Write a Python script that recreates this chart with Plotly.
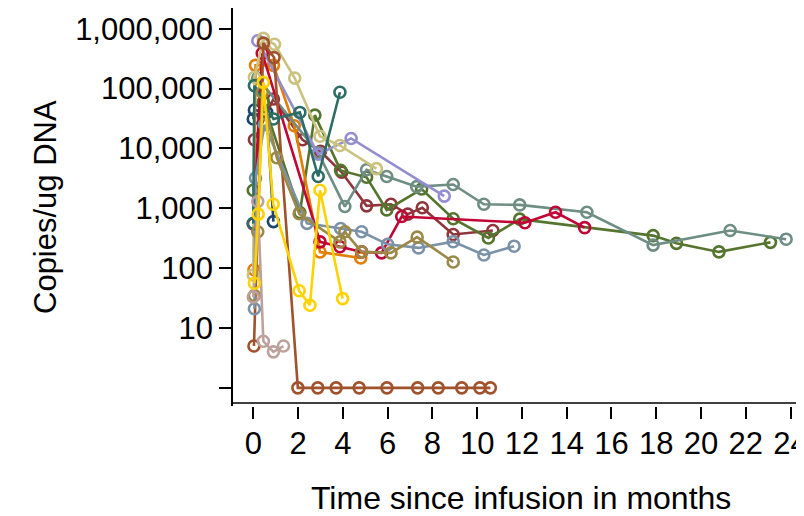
import plotly.graph_objects as go

# ---- data (months since infusion, copies/ug DNA; 0 = undetectable) ----
navy_x = [0.0, 0.05, 0.6, 0.9]
navy_y = [31000, 44000, 40000, 600]

maroon_x = [0.05, 0.9, 2.2, 3.0, 3.95, 5.06, 6.15, 6.9, 7.55, 8.93, 10.7]
maroon_y = [14000, 67000, 14000, 9000, 4000, 1100, 1170, 800, 1020, 365, 425]

green_x = [0.0, 0.45, 2.08, 2.75, 3.9, 5.06, 5.96, 7.52, 8.93, 10.5, 11.9, 17.86, 18.9, 20.8, 23.1]
green_y = [2000, 60000, 850, 36000, 4300, 3300, 940, 2100, 670, 320, 660, 350, 260, 187, 270]

orange_x = [0.03, 0.1, 0.9, 1.83, 2.98, 4.8]
orange_y = [94, 245000, 245000, 24000, 186, 148]

teal_x = [0.2, 2.9, 4.09, 5.06, 5.96, 7.3, 8.93, 10.3, 11.9, 14.9, 17.86, 21.3, 23.8]
teal_y = [150000, 8500, 1070, 4400, 3400, 2300, 2500, 1170, 1140, 860, 243, 425, 305]

cran_x = [0.0, 0.4, 2.98, 3.87, 4.84, 5.73, 6.63, 12.13, 13.5, 14.8]
cran_y = [550, 390000, 275, 228, 187, 180, 730, 575, 860, 475]

lav_x = [0.2, 2.9, 4.37, 8.53]
lav_y = [630000, 8000, 14700, 1600]

khaki_x = [0.0, 0.05, 0.45, 0.95, 1.85, 2.98, 3.87, 5.5]
khaki_y = [77, 155000, 690000, 550000, 150000, 16000, 11200, 4600]

sienna_x = [0.03, 0.45, 0.93, 1.99, 2.88, 3.7, 4.73, 5.97, 7.34, 8.26, 9.31, 10.12, 10.59]
sienna_y = [5, 575000, 330000, 0, 0, 0, 0, 0, 0, 0, 0, 0, 0]

eblue_x = [0.05, 0.1, 0.5, 2.4, 3.9, 4.84, 6.0, 7.38, 8.93, 10.3, 11.65]
eblue_y = [21, 3200, 25000, 560, 460, 405, 250, 218, 277, 166, 233]

emerald_x = [0.0, 0.05, 0.9, 2.08, 2.9, 3.87]
emerald_y = [560, 112000, 31000, 40000, 3400, 87000]

brown_x = [0.05, 0.2, 0.4, 1.05, 2.05, 3.87, 4.09, 4.84, 6.15, 7.32, 8.93]
brown_y = [35, 405, 87000, 7000, 810, 275, 405, 187, 180, 330, 127]

erose_x = [0.0, 0.2, 0.45, 0.9, 1.35]
erose_y = [33, 1300, 6, 4, 5]

gold_x = [0.05, 0.22, 0.45, 0.89, 2.05, 2.53, 2.98, 3.99]
gold_y = [56, 800, 127000, 1170, 42, 24, 2000, 31]

series = [
    (navy_x, navy_y, "#1a476f"),
    (maroon_x, maroon_y, "#90353b"),
    (green_x, green_y, "#55752f"),
    (orange_x, orange_y, "#e37e00"),
    (teal_x, teal_y, "#6e8e84"),
    (cran_x, cran_y, "#c10534"),
    (lav_x, lav_y, "#938dd2"),
    (khaki_x, khaki_y, "#cac27e"),
    (sienna_x, sienna_y, "#a0522d"),
    (eblue_x, eblue_y, "#7b92a8"),
    (emerald_x, emerald_y, "#2d6d66"),
    (brown_x, brown_y, "#9c8847"),
    (erose_x, erose_y, "#bfa19c"),
    (gold_x, gold_y, "#ffd200"),
]

y_tickvals = [1, 10, 100, 1000, 10000, 100000, 1000000]
y_ticktext = ["", "10", "100", "1,000", "10,000", "100,000", "1,000,000"]
x_tickvals = list(range(0, 25, 2))

fig = go.Figure()
for xs, ys, col in series:
    yy = [v if v > 0 else 1 for v in ys]  # undetectable plotted at bottom tick
    fig.add_trace(go.Scatter(
        x=xs, y=yy, mode="lines+markers",
        line=dict(color=col, width=2.6),
        marker=dict(symbol="circle-open", size=11, color=col, line=dict(width=2.6, color=col)),
        showlegend=False, hoverinfo="skip",
    ))

font_family = "Liberation Sans, Arial, sans-serif"
fig.update_layout(
    width=796, height=508,
    margin=dict(l=225, r=4, t=0, b=110),
    paper_bgcolor="white", plot_bgcolor="white",
    font=dict(family=font_family, size=31, color="black"),
    showlegend=False,
)
fig.update_yaxes(
    type="log", range=[-0.303, 6.347],
    tickvals=y_tickvals, ticktext=y_ticktext,
    ticks="outside", ticklen=12, tickwidth=1.5, tickcolor="black",
    showline=True, linecolor="black", linewidth=1.5,
    showgrid=False, zeroline=False, automargin=False,
    tickfont=dict(size=31), ticklabelstandoff=0,
)
fig.update_xaxes(
    range=[-0.906, 24.42],
    tickvals=x_tickvals,
    ticks="outside", ticklen=12, tickwidth=1.5, tickcolor="black",
    showline=False, showgrid=False, zeroline=False, automargin=False,
    tickfont=dict(size=31), ticklabelstandoff=-2, ticklabeloverflow="allow",
)
fig.add_shape(type="line", xref="paper", yref="paper", x0=0, x1=1, y0=0.0075, y1=0.0075,
              line=dict(color="black", width=1.5))
fig.add_annotation(text="Time since infusion in months", xref="paper", yref="paper",
                   x=(521 - 233) / 567, y=-(498 - 406) / 398,
                   xanchor="center", yanchor="middle", showarrow=False,
                   font=dict(size=32))
fig.add_annotation(text="Copies/ug DNA", xref="paper", yref="paper",
                   x=-(233 - 45) / 567, y=(406 - 207) / 398, textangle=-90,
                   xanchor="center", yanchor="middle", showarrow=False,
                   font=dict(size=31))

fig.write_html("out.html")
